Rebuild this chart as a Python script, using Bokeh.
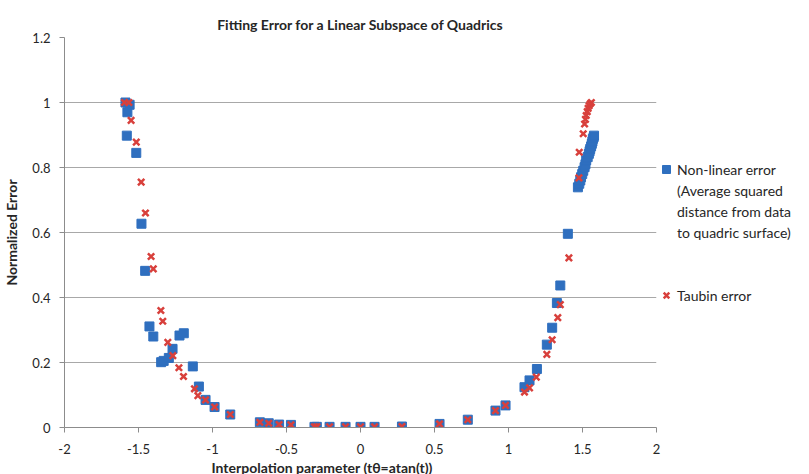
from bokeh.plotting import figure
from bokeh.models import (Range1d, FixedTicker, NumeralTickFormatter, ColumnDataSource,
                          Legend, LegendItem, Title)
from bokeh.embed import file_html
from bokeh.resources import INLINE

# ---------------- data ----------------
TITLE = "Fitting Error for a Linear Subspace of Quadrics"
X_LABEL = "Interpolation parameter   (t\u03b8=atan(t))"
Y_LABEL = "Normalized Error"
X_TICKS = [-2, -1.5, -1, -0.5, 0, 0.5, 1, 1.5, 2]
Y_TICKS = [0, 0.2, 0.4, 0.6, 0.8, 1.0, 1.2]

NL_NAME = ["Non-linear error", "(Average squared", "distance from data", "to quadric surface)"]
NL_X = [-1.588, -1.56, -1.575, -1.579, -1.515, -1.48, -1.455, -1.426, -1.40, -1.347,
        -1.33, -1.295, -1.27, -1.223, -1.194, -1.133, -1.092, -1.047, -0.986, -0.88,
        -0.68, -0.62, -0.55, -0.47, -0.311, -0.295, -0.209, -0.101, 0.0, 0.095,
        0.28, 0.534, 0.725, 0.912, 0.98, 1.108, 1.142, 1.192, 1.259, 1.295,
        1.327, 1.35, 1.401,
        1.469, 1.478, 1.485, 1.49, 1.498, 1.505, 1.514, 1.52, 1.525, 1.535,
        1.543, 1.548, 1.552, 1.558, 1.563, 1.567, 1.57, 1.575, 1.578]
NL_Y = [1.0, 0.993, 0.97, 0.898, 0.845, 0.627, 0.482, 0.311, 0.28, 0.201,
        0.205, 0.214, 0.242, 0.283, 0.29, 0.188, 0.126, 0.085, 0.063, 0.04,
        0.016, 0.013, 0.009, 0.008, 0.002, 0.002, 0.002, 0.002, 0.002, 0.002,
        0.003, 0.011, 0.024, 0.052, 0.068, 0.124, 0.145, 0.18, 0.255, 0.307,
        0.383, 0.437, 0.596,
        0.739, 0.75, 0.76, 0.77, 0.78, 0.79, 0.801, 0.81, 0.822, 0.832,
        0.842, 0.85, 0.857, 0.865, 0.873, 0.88, 0.888, 0.893, 0.898]

TB_NAME = "Taubin error"
TB_X = [-1.595, -1.565, -1.55, -1.515, -1.482, -1.453, -1.415, -1.40, -1.349, -1.336,
        -1.302, -1.268, -1.227, -1.196, -1.122, -1.099, -1.047, -0.986, -0.88, -0.68,
        -0.62, -0.55, -0.47, -0.311, -0.295, -0.209, -0.101, 0.0, 0.095, 0.28,
        0.534, 0.725, 0.912, 0.98, 1.108, 1.142, 1.188, 1.259, 1.295, 1.333,
        1.35, 1.408, 1.476, 1.478, 1.505, 1.514, 1.52, 1.525, 1.532, 1.538,
        1.545, 1.552, 1.56]
TB_Y = [1.0, 1.0, 0.945, 0.878, 0.755, 0.66, 0.526, 0.488, 0.36, 0.327,
        0.262, 0.221, 0.184, 0.157, 0.119, 0.098, 0.085, 0.063, 0.04, 0.016,
        0.013, 0.009, 0.008, 0.002, 0.002, 0.002, 0.002, 0.002, 0.002, 0.003,
        0.011, 0.024, 0.052, 0.068, 0.109, 0.122, 0.155, 0.225, 0.27, 0.338,
        0.378, 0.522, 0.768, 0.847, 0.904, 0.934, 0.948, 0.96, 0.972, 0.982,
        0.99, 0.996, 1.0]

BLUE = "#2f6fbf"
RED = "#d8403c"
FONT = "Lato"
TXT = "#262626"

# ---------------- figure ----------------
p = figure(frame_width=592, frame_height=390,
           min_border_left=59, min_border_right=130,
           min_border_top=37, min_border_bottom=30,
           x_range=Range1d(X_TICKS[0], X_TICKS[-1]),
           y_range=Range1d(Y_TICKS[0], Y_TICKS[-1]),
           output_backend="svg", toolbar_location=None,
           title=TITLE)
p.outline_line_color = None
p.background_fill_color = "white"
p.border_fill_color = "white"

p.title.align = "center"
p.title.text_font = FONT
p.title.text_font_size = "14px"
p.title.text_font_style = "bold"
p.title.text_color = TXT

p.xgrid.grid_line_color = None
p.ygrid.grid_line_color = "#a8a8a8"
p.ygrid.grid_line_width = 1

p.xaxis.ticker = FixedTicker(ticks=X_TICKS)
p.yaxis.ticker = FixedTicker(ticks=Y_TICKS)
for ax in (p.xaxis[0], p.yaxis[0]):
    ax.formatter = NumeralTickFormatter(format="0.[0]")
    ax.axis_line_color = "#8c8c8c"
    ax.major_tick_line_color = "#8c8c8c"
    ax.minor_tick_line_color = None
    ax.major_tick_in = 0
    ax.major_tick_out = 5
    ax.major_label_text_font = FONT
    ax.major_label_text_font_size = "13px"
    ax.major_label_text_color = TXT
p.xaxis.major_label_standoff = 11
p.yaxis.major_label_standoff = 9

p.yaxis.axis_label = Y_LABEL
p.yaxis.axis_label_text_font = FONT
p.yaxis.axis_label_text_font_size = "14px"
p.yaxis.axis_label_text_font_style = "bold"
p.yaxis.axis_label_text_color = TXT
p.yaxis.axis_label_standoff = 9

# x axis label as a left-aligned title under the axis
p.add_layout(Title(text=X_LABEL, align="left", offset=147, standoff=0,
                   text_font=FONT, text_font_size="14px", text_font_style="bold",
                   text_color=TXT), "below")

nl_src = ColumnDataSource(dict(x=NL_X, y=NL_Y))
tb_src = ColumnDataSource(dict(x=TB_X, y=TB_Y))
nl_r = p.scatter("x", "y", source=nl_src, marker="square", size=9,
                 fill_color=BLUE, line_color=BLUE)
tb_r = p.scatter("x", "y", source=tb_src, marker="x", size=9,
                 line_color=RED, line_width=2.5)
blank_r = p.scatter(x=[], y=[], marker="square", size=1, fill_alpha=0, line_alpha=0)

items = [LegendItem(label=NL_NAME[0], renderers=[nl_r])]
items += [LegendItem(label=t, renderers=[blank_r]) for t in NL_NAME[1:]]
items += [LegendItem(label="\u00a0", renderers=[blank_r]) for _ in range(2)]
items += [LegendItem(label=TB_NAME, renderers=[tb_r])]

legend = Legend(items=items, location=(0, 122), orientation="vertical",
                border_line_color=None, background_fill_alpha=0,
                padding=0, margin=0, spacing=1,
                glyph_width=20, glyph_height=20, label_height=20,
                label_standoff=1, label_text_font=FONT, label_text_font_size="14px",
                label_text_color=TXT)
p.add_layout(legend, "right")

open("out.html", "w").write(file_html(p, INLINE))
